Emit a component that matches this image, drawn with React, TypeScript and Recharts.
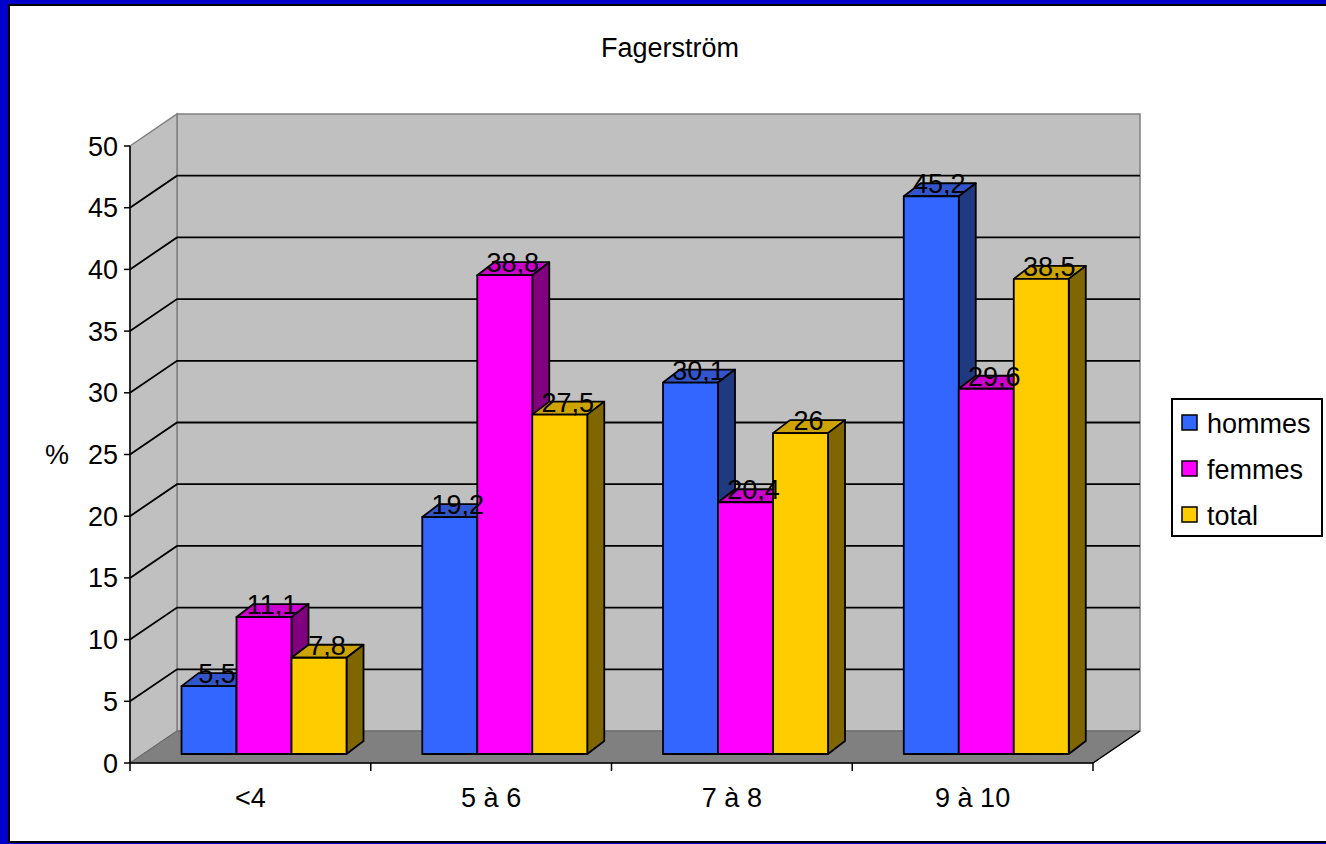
import { BarChart, Bar, XAxis, YAxis, Legend, LabelList, ReferenceArea, ReferenceLine } from 'recharts'

const categories = ['<4', '5 à 6', '7 à 8', '9 à 10']
const hommes = [5.5, 19.2, 30.1, 45.2]
const femmes = [11.1, 38.8, 20.4, 29.6]
const total = [7.8, 27.5, 26, 38.5]
const yTicks = [0, 5, 10, 15, 20, 25, 30, 35, 40, 45, 50]

const data = categories.map((label, i) => ({
  label,
  hommes: hommes[i],
  femmes: femmes[i],
  total: total[i],
}))

const series = [
  { key: 'hommes', front: '#3366FF', top: '#3355CC', side: '#1F3A80' },
  { key: 'femmes', front: '#FF00FF', top: '#CC00CC', side: '#800080' },
  { key: 'total', front: '#FFCC00', top: '#CCA300', side: '#806600' },
]

// depth of walls/floor, where the bars sit inside it, and the bars' own depth
const WALL_DX = 47
const WALL_DY = 32
const BAR_SX = 13
const BAR_SY = 9
const BAR_DX = 17
const BAR_DY = 13
const FONT = 'Arial, "Liberation Sans", sans-serif'

function Walls(props: any) {
  const { x, y, width, height } = props
  if (x == null || width == null) return null
  const bottom = y + height
  return (
    <g>
      <rect x={x + WALL_DX} y={y - WALL_DY} width={width} height={height} fill="#C0C0C0" stroke="#808080" strokeWidth={1.5} />
      <polygon
        points={`${x},${y} ${x + WALL_DX},${y - WALL_DY} ${x + WALL_DX},${bottom - WALL_DY} ${x},${bottom}`}
        fill="#C0C0C0"
        stroke="#808080"
        strokeWidth={1.5}
      />
      <polygon
        points={`${x},${bottom} ${x + WALL_DX},${bottom - WALL_DY} ${x + width + WALL_DX},${bottom - WALL_DY} ${x + width},${bottom}`}
        fill="#808080"
        stroke="#666"
        strokeWidth={1}
      />
      <line x1={x + width} y1={bottom} x2={x + width + WALL_DX} y2={bottom - WALL_DY} stroke="#000" strokeWidth={1.5} />
    </g>
  )
}

function GridLine(props: any) {
  const { x1, y1, x2 } = props
  if (x1 == null || y1 == null) return null
  return (
    <path
      d={`M${x1},${y1} L${x1 + WALL_DX},${y1 - WALL_DY} L${x2 + WALL_DX},${y1 - WALL_DY}`}
      fill="none"
      stroke="#000"
      strokeWidth={1.8}
    />
  )
}

function Box3D(props: any) {
  const { x, y, width, height, front, top, side } = props
  if (x == null || width == null || height == null) return null
  const x0 = x + BAR_SX
  const y0 = y - BAR_SY
  const x1 = x0 + width
  const y1 = y0 + height
  return (
    <g stroke="#000" strokeWidth={1.8} strokeLinejoin="round">
      <polygon points={`${x0},${y0} ${x1},${y0} ${x1 + BAR_DX},${y0 - BAR_DY} ${x0 + BAR_DX},${y0 - BAR_DY}`} fill={top} />
      <polygon points={`${x1},${y0} ${x1 + BAR_DX},${y0 - BAR_DY} ${x1 + BAR_DX},${y1 - BAR_DY} ${x1},${y1}`} fill={side} />
      <rect x={x0} y={y0} width={width} height={height} fill={front} />
    </g>
  )
}

function ValueLabel(props: any) {
  const vb = props.viewBox ?? {}
  const x = props.x ?? vb.x
  const y = props.y ?? vb.y
  const width = props.width ?? vb.width
  if (x == null || y == null) return null
  return (
    <text
      x={x + width / 2 + BAR_SX + 8}
      y={y - BAR_SY - 3}
      textAnchor="middle"
      fontSize={27}
      fontFamily={FONT}
      fill="#000"
    >
      {String(props.value).replace('.', ',')}
    </text>
  )
}

function CategoryTick(props: any) {
  const { x, y, payload, index } = props
  const half = payload?.offset ?? 963 / 8
  const last = index === categories.length - 1
  return (
    <g>
      <line x1={x - half} y1={y} x2={x - half} y2={y + 8} stroke="#000" strokeWidth={1.5} />
      {last && <line x1={x + half} y1={y} x2={x + half} y2={y + 8} stroke="#000" strokeWidth={1.5} />}
      <text x={x} y={y + 44} textAnchor="middle" fontSize={27} fontFamily={FONT} fill="#000">
        {payload.value}
      </text>
    </g>
  )
}

// legend keeps the series order (hommes, femmes, total)
function LegendBox(props: any) {
  const colors: Record<string, string> = {}
  for (const item of props.payload ?? []) colors[item.value] = item.color
  return (
    <svg width={152} height={139} style={{ display: 'block' }}>
      <rect x={1} y={1} width={150} height={137} fill="#fff" stroke="#000" strokeWidth={2} />
      {series.map((s, i) => (
        <g key={s.key}>
          <rect x={11} y={17 + i * 46} width={15} height={15} fill={colors[s.key] ?? s.front} stroke="#000" strokeWidth={1.5} />
          <text x={36} y={35 + i * 46} fontSize={27} fontFamily={FONT} fill="#000">
            {s.key}
          </text>
        </g>
      ))}
    </svg>
  )
}

export default function App() {
  return (
    <div style={{ position: 'absolute', left: 0, top: 0, width: 1326, height: 844, background: '#0000CC', overflow: 'hidden', fontFamily: FONT }}>
      <div style={{ position: 'absolute', left: 8, top: 4, width: 1330, height: 835, border: '2px solid #000', background: '#fff' }} />
      <div style={{ position: 'absolute', left: 470, top: 35, width: 400, textAlign: 'center', fontSize: 27, lineHeight: '27px', color: '#000' }}>
        Fagerström
      </div>
      <div style={{ position: 'absolute', left: 0, top: 0 }}>
        <BarChart
          width={1326}
          height={844}
          data={data}
          margin={{ top: 146, right: 233, bottom: 41, left: 40 }}
          barCategoryGap="16%"
          barGap={0}
        >
          <ReferenceArea y1={0} y2={50} ifOverflow="visible" shape={Walls} zIndex={-80} />
          {yTicks
            .filter((v) => v > 0 && v < 50)
            .map((v) => (
              <ReferenceLine key={v} y={v} shape={GridLine} zIndex={-70} />
            ))}
          <XAxis
            dataKey="label"
            interval={0}
            height={40}
            tickSize={0}
            tickMargin={0}
            tickLine={false}
            axisLine={{ stroke: '#000', strokeWidth: 1.5 }}
            tick={<CategoryTick />}
          />
          <YAxis
            domain={[0, 50]}
            ticks={yTicks}
            interval={0}
            width={90}
            tickSize={6}
            tickMargin={6}
            axisLine={{ stroke: '#000', strokeWidth: 1.5 }}
            tickLine={{ stroke: '#000', strokeWidth: 1.5 }}
            tick={{ fill: '#000', fontSize: 27, fontFamily: FONT }}
            label={{ value: '%', position: 'insideLeft', offset: 5, fill: '#000', fontSize: 27, fontFamily: FONT }}
          />
          <Legend
            layout="vertical"
            align="center"
            verticalAlign="middle"
            wrapperStyle={{ left: 1171, top: 398, width: 152, height: 139 }}
            content={<LegendBox />}
          />
          {series.map((s) => (
            <Bar
              key={s.key}
              dataKey={s.key}
              fill={s.front}
              isAnimationActive={false}
              shape={(p: any) => <Box3D {...p} front={s.front} top={s.top} side={s.side} />}
            >
              <LabelList dataKey={s.key} content={ValueLabel} />
            </Bar>
          ))}
        </BarChart>
      </div>
    </div>
  )
}
